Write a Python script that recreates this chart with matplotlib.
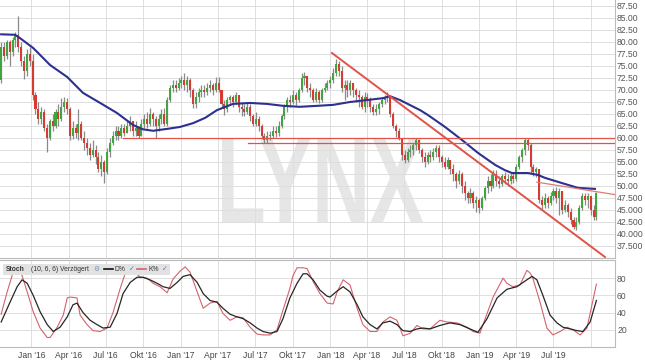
import numpy as np
import pandas as pd
import matplotlib
matplotlib.use("Agg")
import matplotlib.pyplot as plt
import matplotlib.dates as mdates
from matplotlib.textpath import TextPath
from matplotlib.font_manager import FontProperties
from matplotlib.patches import PathPatch, Rectangle
from matplotlib.transforms import Affine2D
from matplotlib.ticker import FixedLocator, FuncFormatter

plt.rcParams["font.family"] = ["Liberation Sans", "DejaVu Sans"]

# weekly candles, first week starting 2015-10-19
start = pd.Timestamp("2015-10-19")
first_open = 72.0
close = [79, 77, 80, 78, 80.5, 81.5, 79, 76, 74, 77.5,
         76, 69, 66, 64, 65.5, 62, 60, 63.5, 62.5, 65.5,
         64, 66.5, 67.5, 66, 60.5, 62, 61, 63, 60, 59,
         58, 56.5, 57.5, 56, 53.5, 55, 53, 57, 59, 60.5,
         61.5, 60.5, 62, 61, 62.5, 63.5, 61.5, 62, 60.5, 63,
         64, 63, 65, 64, 62.5, 64, 65, 63, 68, 70.5,
         71, 70.5, 71.5, 72, 71, 72, 70, 67, 68.5, 69.5,
         70, 69.5, 70.5, 71, 70, 71.5, 70, 67, 66, 68,
         68.5, 67.5, 69, 66.5, 66, 65.5, 66.5, 64.5, 63, 64,
         62.5, 60.5, 59.5, 60.5, 60.5, 61.5, 61, 62.5, 64.5, 66.5,
         68, 67.5, 69, 68, 70, 72.5, 73, 70.5, 70, 68,
         69.5, 68, 70, 70.5, 71.5, 72, 73.5, 75.5, 74, 70.5,
         71, 70, 71.5, 70, 69, 68.5, 66.5, 68.5, 68, 66.5,
         65.5, 66, 67, 68, 68.5, 68.5, 65, 62.5, 61.5, 60,
         56.5, 55.5, 57, 57.5, 58.5, 59.5, 57.5, 56, 55, 56.5,
         56, 57, 58, 56, 55, 54, 55.5, 53.5, 52.5, 51,
         52.5, 50, 48.5, 47.5, 48.5, 46.5, 47, 45.5, 47.5, 49.5,
         51, 50, 52.5, 51, 50.5, 52, 51.5, 51, 52, 51.5,
         54, 56, 57.5, 59.5, 58.5, 54, 53, 53.5, 47, 46,
         47.5, 46.5, 48, 49, 47.5, 49, 45, 46, 44.5, 43,
         41.5, 42.5, 45.5, 48, 47, 48, 45, 43.5, 48.5]
high = [80, 80, 80.5, 80.5, 81, 82, 85.4, 80, 77, 78.5,
        79, 77.5, 69.5, 67.5, 66.5, 66, 63, 64, 65, 66,
        67, 68.3, 68.5, 68.3, 66.5, 63.5, 63, 66, 63.5, 61.5,
        60, 59, 59.5, 58.5, 57, 56.5, 55.5, 58, 60, 61.5,
        62.5, 62.5, 63, 63, 63.5, 64.5, 63.5, 63.5, 62.5, 64,
        65, 65.5, 66.3, 65.5, 64.5, 65, 66, 66.3, 68.5, 71,
        72, 72, 72.5, 73, 73.5, 73, 72.5, 70.5, 69.5, 70.5,
        71, 71, 71.5, 72, 71.5, 72.7, 72.7, 70, 68, 68.5,
        69, 69, 69.5, 69, 67.5, 67, 67.5, 67, 65, 65.5,
        64.5, 63, 61, 61.5, 61.5, 62.5, 62.5, 63.5, 65, 67,
        68.5, 69, 70, 69.5, 70.5, 73.5, 73.7, 73, 71.5, 70.5,
        70.5, 70, 70.5, 71.5, 72, 73, 74.5, 76.5, 76, 75,
        72, 72, 72, 71.5, 70.5, 70, 69, 69.5, 69.3, 68.5,
        67, 67, 67.5, 68.5, 69, 69.5, 68.8, 65.5, 63, 62,
        60, 57.5, 58, 58.5, 59, 60, 59.5, 58, 57, 57,
        57.5, 58, 58.5, 58.5, 56.5, 56, 56, 55.5, 54.5, 53,
        53.3, 53, 51, 49, 49.5, 49, 48, 47.5, 48, 50,
        52, 52.5, 53.3, 53.3, 52, 52.5, 53, 52.5, 52.7, 52.7,
        54.5, 56.5, 58, 60, 60, 59, 54.5, 54, 53.5, 48,
        48.5, 48, 48.8, 49.5, 49.8, 49.5, 49, 47, 46.5, 45.5,
        43.5, 43.5, 46, 48.5, 48.5, 48.5, 48, 46, 48.8]
low = [71.5, 76, 76.5, 75, 77, 79, 78, 75, 72.3, 73,
       75, 68, 65, 63, 63, 61.5, 57, 59.5, 61.5, 62,
       62.5, 63.5, 65.5, 65, 59.6, 59.8, 60, 59.5, 59.5, 57.5,
       56.5, 55.5, 56, 54.5, 53, 52, 50.6, 52.5, 56, 58.5,
       59.5, 59.5, 60, 60.5, 61, 61.5, 60.5, 60.5, 60, 60.5,
       62, 62, 62.5, 62.5, 60, 61.5, 63, 62.5, 62.5, 67.5,
       69.5, 69.5, 70, 70.5, 70, 69.5, 68.5, 66.2, 66.2, 67.5,
       68.5, 68.5, 69, 69.5, 69, 69.5, 69.5, 66.5, 64.8, 65.5,
       67, 66.5, 67, 65.5, 64.5, 64.5, 65, 63.5, 62.5, 62.5,
       61.5, 60, 59, 59, 59.5, 60, 60.3, 60.5, 62, 64,
       65.5, 66.5, 67, 66.8, 67.5, 69.5, 71, 69.5, 68.5, 67.5,
       67.5, 67.3, 67.5, 69.5, 70, 70.5, 71.5, 73, 73, 69.5,
       67.9, 68.5, 69, 68.5, 67.5, 66.5, 66, 65.5, 66.5, 65.5,
       64.8, 64.8, 65, 66.5, 67, 67.5, 64.4, 62, 60.2, 59.5,
       55.5, 54.8, 55, 56, 56.5, 57.5, 56.9, 55, 54, 54.5,
       55, 55.5, 56, 55, 54, 53.5, 53.5, 52.5, 51, 49.5,
       50.5, 48.5, 47, 46.5, 46.5, 45.5, 44.5, 44.4, 45, 47,
       48.5, 49, 49.5, 50, 49.5, 50, 50.5, 50, 50.5, 50.6,
       51, 53.5, 55, 56.5, 57.5, 52.7, 52, 51.9, 46.5, 45,
       45.5, 45.5, 46, 47, 46.5, 44, 44.2, 44.5, 43.5, 42,
       41, 40.8, 42, 45, 46, 45.5, 44, 42.9, 43]

# moving average, positions in weeks since start
ma_week = [0, 4.9, 6.6, 11.2, 17.1, 23.1, 28.6, 34.6, 40.5, 46.1, 49.6, 53.1,
           58.0, 62.5, 67.1, 71.3, 75.4, 81.0, 87.0, 92.9, 98.5, 104.4, 110.4,
           116.0, 121.9, 127.8, 133.4, 135.9, 139.4, 146.4, 149.1, 155.1, 161.0,
           166.6, 172.6, 176.0, 178.5, 184.1, 187.6, 190.0, 196.0, 201.6, 207.5]
ma_val = [81.6, 81.5, 80.8, 78.75, 75.2, 72.7, 69.4, 67.3, 65.2, 62.7, 61.8, 61.5,
          61.9, 62.3, 63.1, 64.2, 65.8, 67.1, 67.3, 67.1, 66.7, 66.5, 66.7,
          66.9, 67.5, 67.9, 68.3, 68.7, 67.9, 65.8, 64.8, 62.3, 59.6,
          56.9, 54.4, 53.3, 52.7, 52.7, 52.3, 51.7, 50.6, 49.6, 49.4]

# stochastic (10, 6, 6)
d_week = [0, 3.1, 5.6, 7.3, 9.1, 11.2, 13.6, 16.1, 18.2, 20.6, 23.1, 25.1, 26.5,
          28.6, 31.1, 33.5, 35.6, 38.1, 40.5, 42.6, 45.1, 47.5, 49.6, 52.0, 54.5,
          56.6, 59.0, 61.5, 63.6, 66.0, 68.5, 70.6, 73.0, 75.4, 77.5, 80.0, 82.4,
          84.5, 87.0, 89.4, 91.5, 94.0, 96.4, 98.5, 100.9, 103.4, 105.5, 106.9,
          109.0, 111.4, 113.9, 114.9, 117.4, 119.5, 121.9, 124.4, 126.4, 128.9,
          131.3, 133.4, 135.9, 138.3, 140.4, 142.9, 145.3, 147.4, 149.9, 153.3,
          156.8, 160.3, 163.8, 166.6, 169.8, 173.3, 176.7, 180.2, 183.7, 185.5,
          187.2, 189.3, 191.8, 194.2, 196.3, 198.8, 201.2, 203.3, 205.8, 208]
d_val = [29, 52, 70, 78, 74, 60, 41, 26, 18, 23, 35, 49, 51,
         40, 31, 26, 22, 23, 39, 62, 75, 81, 81, 78, 74,
         70, 68, 75, 82, 84, 75, 62, 54, 52, 45, 38, 35,
         33, 28, 22, 18, 16, 18, 33, 57, 74, 85, 85,
         78, 66, 59, 58, 65, 70, 64, 49, 35, 26,
         21, 28, 30, 26, 19, 18, 21, 22, 21, 25,
         28, 26, 21, 17, 33, 57, 67, 70, 78, 82,
         78, 60, 37, 28, 23, 21, 19, 18, 29, 54]
k_week = [0, 2.1, 4.2, 5.6, 7.3, 9.1, 11.2, 13.6, 16.1, 17.1, 19.6, 21.7, 23.1,
          24.1, 26.5, 27.6, 30.0, 32.1, 34.6, 37.0, 39.1, 41.6, 43.3, 46.1, 48.6,
          51.0, 53.1, 55.5, 58.0, 60.1, 62.5, 64.3, 66.0, 68.5, 70.6, 73.0, 75.4,
          77.5, 80.0, 82.4, 84.5, 87.0, 89.4, 91.5, 94.0, 96.4, 98.5, 100.9, 102.0,
          103.4, 105.5, 106.9, 109.0, 111.4, 113.9, 116.0, 117.4, 119.5, 121.9,
          124.4, 126.4, 128.9, 131.3, 133.4, 135.9, 138.3, 140.4, 142.9, 145.3,
          147.4, 149.9, 153.3, 155.8, 159.3, 162.8, 164.9, 167.3, 169.8, 171.9,
          175.4, 176.7, 178.8, 181.3, 183.7, 184.8, 185.8, 188.3, 190.7, 192.8,
          195.3, 197.7, 199.8, 202.3, 204.7, 208]
k_val = [38, 64, 87, 91, 83, 64, 41, 22, 11, 11, 23, 37, 57,
         58, 57, 37, 26, 19, 18, 22, 40, 68, 85, 89, 81,
         80, 74, 70, 63, 79, 88, 93, 87, 64, 45, 51, 53,
         39, 31, 35, 34, 23, 15, 14, 14, 20, 43, 68, 83,
         92, 92, 91, 76, 62, 51, 50, 64, 78, 72,
         45, 26, 18, 18, 29, 35, 31, 13, 16, 25,
         21, 21, 31, 29, 28, 23, 18, 16, 39, 58,
         80, 74, 70, 72, 89, 86, 80, 52, 22, 14,
         18, 23, 20, 14, 22, 73]

# drawn lines: (weeks, prices)
trend_down = ([115.6, 211.0], [77.7, 35.2])
resist_short = ([187.2, 214.5], [50.8, 48.2])
support_60 = ([42.6, 214.5], [60.0, 60.0])
support_59 = ([86.3, 214.5], [59.0, 59.0])

quarters = pd.date_range("2016-01-01", "2019-10-01", freq="QS")
month_de = {1: "Jan", 4: "Apr", 7: "Jul", 10: "Okt"}


def wk(w):
    w = np.asarray(w, dtype=float)
    return mdates.date2num(start + pd.to_timedelta(w * 7, unit="D"))


n = len(close)
x = wk(np.arange(n))
opens = np.array([first_open] + close[:-1])
closes = np.array(close)
up = closes >= opens

fig = plt.figure(figsize=(6.45, 3.63), dpi=100)
ax = fig.add_axes([0, 0.2893, 0.9535, 0.7107])
ax2 = fig.add_axes([0, 0.0441, 0.9535, 0.2396])

grid_c = "#dedede"
xmin, xmax = wk(-0.4), wk(214.5)
qx = mdates.date2num(quarters)

for a in (ax, ax2):
    a.set_xlim(xmin, xmax)
    a.xaxis.set_major_locator(FixedLocator(qx))
    a.grid(True, color=grid_c, lw=0.7)
    a.set_axisbelow(True)
    a.yaxis.tick_right()
    a.tick_params(axis="both", length=0, labelsize=6.2, labelcolor="#555555", pad=1.5)
    for s in ("left", "top"):
        a.spines[s].set_visible(False)
    for s in ("right", "bottom"):
        a.spines[s].set_color("#bbbbbb")
        a.spines[s].set_linewidth(0.8)

# main price panel
ax.set_ylim(35.0, 88.75)
ax.yaxis.set_major_locator(FixedLocator(np.arange(37.5, 88, 2.5)))
ax.yaxis.set_major_formatter(FuncFormatter(lambda v, _: f"{v:.2f}" if v >= 50 else f"{v:.3f}"))
ax.tick_params(axis="x", labelbottom=False)

# LYNX watermark
tp = TextPath((0, 0), "LYNX", size=1, prop=FontProperties(family="Liberation Sans", weight="bold"))
bb = tp.get_extents()
x0, x1, y0, y1 = 222 / 615, 423 / 615, (258 - 222) / 258, (258 - 138) / 258
tf = Affine2D().translate(-bb.x0, -bb.y0).scale((x1 - x0) / bb.width, (y1 - y0) / bb.height).translate(x0, y0)
ax.add_patch(PathPatch(tf.transform_path(tp), fc="#e6e6e6", ec="none", transform=ax.transAxes, zorder=0.2))

cols = np.where(up, "#3fa63f", "#d63a33")
ax.vlines(x, low, high, color="#8a8a8a", lw=0.9, zorder=2)
body_h = np.maximum(np.abs(closes - opens), 0.2)
ax.bar(x, body_h, bottom=np.minimum(opens, closes), width=5.0, color=cols, lw=0, zorder=3)

ax.plot(wk(ma_week), ma_val, color="#2d2f91", lw=1.5, zorder=4)

red = "#e0524a"
ax.plot(wk(support_60[0]), support_60[1], color=red, lw=0.9, zorder=5)
ax.plot(wk(support_59[0]), support_59[1], color=red, lw=0.9, zorder=5)
ax.plot(wk(trend_down[0]), trend_down[1], color=red, lw=1.4, zorder=5)
ax.plot(wk(resist_short[0]), resist_short[1], color="#e07a72", lw=0.9, zorder=5)

# stochastic panel
ax2.set_ylim(0, 101)
ax2.yaxis.set_major_locator(FixedLocator([20, 40, 60, 80]))
ax2.yaxis.set_major_formatter(FuncFormatter(lambda v, _: f"{v:.0f}"))
labels = [f"{month_de[d.month]} '{d.year % 100:02d}" for d in quarters]
labels[-1] = ""
ax2.set_xticklabels(labels)
ax2.tick_params(axis="x", pad=3, labelcolor="#444444")
ax2.spines["top"].set_visible(True)
ax2.spines["top"].set_color("#bbbbbb")

ax2.plot(wk(k_week), k_val, color="#d4626c", lw=0.8, zorder=3)
ax2.plot(wk(d_week), d_val, color="#262626", lw=0.9, zorder=4)

# stoch legend box
ax2.add_patch(Rectangle((0.005, 0.83), 0.272, 0.125, transform=ax2.transAxes,
                        fc="#e2e2e2", ec="none", zorder=5))
ty = 0.893
kw = dict(transform=ax2.transAxes, va="center", fontsize=4.9, color="#333333", zorder=6)
ax2.text(0.009, ty, "Stoch", fontweight="bold", **kw)
ax2.text(0.051, ty, "(10, 6, 6) Verzögert", **kw)
ax2.text(0.151, ty, "\u2699", fontsize=4.9, color="#7a92b8", transform=ax2.transAxes, va="center", zorder=6)
ax2.plot([0.169, 0.183], [ty, ty], color="#111111", lw=1.2, transform=ax2.transAxes, zorder=6)
ax2.text(0.186, ty, "D%", **kw)
ax2.text(0.209, ty, "\u2713", fontsize=4.9, color="#4a78c8", transform=ax2.transAxes, va="center", zorder=6)
ax2.plot([0.222, 0.238], [ty, ty], color="#d4626c", lw=1.2, transform=ax2.transAxes, zorder=6)
ax2.text(0.241, ty, "K%", **kw)
ax2.text(0.264, ty, "\u2713", fontsize=4.9, color="#4a78c8", transform=ax2.transAxes, va="center", zorder=6)

fig.savefig("out.png", dpi=100, facecolor="white")
